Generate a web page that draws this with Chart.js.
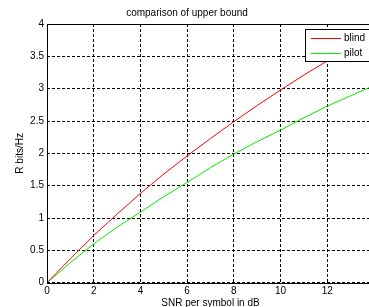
<!DOCTYPE html>
<html>
<head>
<meta charset="utf-8">
<script src="https://cdn.jsdelivr.net/npm/chart.js@4/dist/chart.umd.min.js"></script>
<style>
  html, body { margin: 0; padding: 0; background: #fff; overflow: hidden; }
  #wrap { position: absolute; left: 0; top: 0; width: 374px; height: 312px; }
</style>
</head>
<body>
<div id="wrap"><canvas id="chart" width="374" height="312"></canvas></div>
<script>
// values
const snr = [0, 1, 2, 3, 4, 5, 6, 7, 8, 9, 10, 11, 12, 13, 14];
const blind = [0, 0.37, 0.73, 1.06, 1.38, 1.68, 1.96, 2.23, 2.49, 2.74, 2.98, 3.21, 3.43, 3.65, 3.86];
const pilot = [0, 0.31, 0.6, 0.86, 1.09, 1.33, 1.55, 1.78, 1.99, 2.18, 2.36, 2.55, 2.73, 2.89, 3.05];
const seriesNames = ['blind', 'pilot'];

const FONT = 'Helvetica, Arial, "Liberation Sans", sans-serif';

function toPoints(ys) {
    return snr.map((x, i) => ({ x: x, y: ys[i] }));
}

// box around the axes (MATLAB "box on")
const boxPlugin = {
    id: 'box',
    afterDraw(chart) {
        const a = chart.chartArea, ctx = chart.ctx;
        ctx.save();
        ctx.strokeStyle = '#000';
        ctx.lineWidth = 1;
        ctx.strokeRect(Math.round(a.left) + 0.5, Math.round(a.top) + 0.5,
            Math.round(a.right - a.left), Math.round(a.bottom - a.top));
        ctx.restore();
    }
};

// legend box drawn inside the plot, top right
const insideLegend = {
    id: 'insideLegend',
    afterDraw(chart) {
        const ctx = chart.ctx;
        const x0 = 305.5, y0 = 29.5, w = 80, h = 32;
        ctx.save();
        ctx.fillStyle = '#fff';
        ctx.fillRect(x0, y0, w, h);
        ctx.strokeStyle = '#000';
        ctx.lineWidth = 1;
        ctx.strokeRect(x0, y0, w, h);
        ctx.font = '10px ' + FONT;
        ctx.textBaseline = 'middle';
        ctx.fillStyle = '#000';
        chart.data.datasets.forEach((ds, i) => {
            const y = Math.round(y0 + 8.5 + i * 14.5) + 0.5;
            ctx.strokeStyle = ds.borderColor;
            ctx.beginPath();
            ctx.moveTo(311, y);
            ctx.lineTo(341, y);
            ctx.stroke();
            ctx.fillText(ds.label, 344, y);
        });
        ctx.restore();
    }
};

const gridStyle = {
    color: '#000',
    lineWidth: 1,
    drawTicks: false
};

new Chart(document.getElementById('chart').getContext('2d'), {
    type: 'line',
    data: {
        datasets: [
            { label: seriesNames[0], data: toPoints(blind), borderColor: '#ff0000', borderWidth: 1, pointRadius: 0, tension: 0, fill: false },
            { label: seriesNames[1], data: toPoints(pilot), borderColor: '#00ee00', borderWidth: 1, pointRadius: 0, tension: 0, fill: false }
        ]
    },
    options: {
        responsive: false,
        animation: false,
        layout: { padding: 0 },
        plugins: {
            legend: { display: false },
            tooltip: { enabled: false },
            title: {
                display: true,
                text: 'comparison of upper bound',
                color: '#000',
                font: { family: FONT, size: 10, weight: 'normal' },
                padding: { top: 7, bottom: 5 }
            }
        },
        scales: {
            x: {
                type: 'linear',
                min: 0,
                max: 14,
                border: { display: false, dash: [3, 2] },
                grid: gridStyle,
                ticks: { stepSize: 2, color: '#000', padding: 3, maxRotation: 0, font: { family: FONT, size: 10 } },
                title: {
                    display: true,
                    text: 'SNR per symbol in dB',
                    color: '#000',
                    font: { family: FONT, size: 10 },
                    padding: { top: 0, bottom: 3 }
                },
                afterFit: s => { s.height = 29.3; s.paddingLeft = 0; s.paddingRight = 0; }
            },
            y: {
                min: 0,
                max: 4,
                border: { display: false, dash: [3, 2] },
                grid: gridStyle,
                ticks: { stepSize: 0.5, color: '#000', padding: 3, font: { family: FONT, size: 10 }, callback: v => String(v) },
                title: {
                    display: true,
                    text: 'R bits/Hz',
                    color: '#000',
                    font: { family: FONT, size: 10 },
                    padding: { top: 14.5, bottom: 0 }
                },
                afterFit: s => { s.width = 47; s.paddingTop = 0; s.paddingBottom = 0; }
            }
        }
    },
    plugins: [boxPlugin, insideLegend]
});
</script>
</body>
</html>
